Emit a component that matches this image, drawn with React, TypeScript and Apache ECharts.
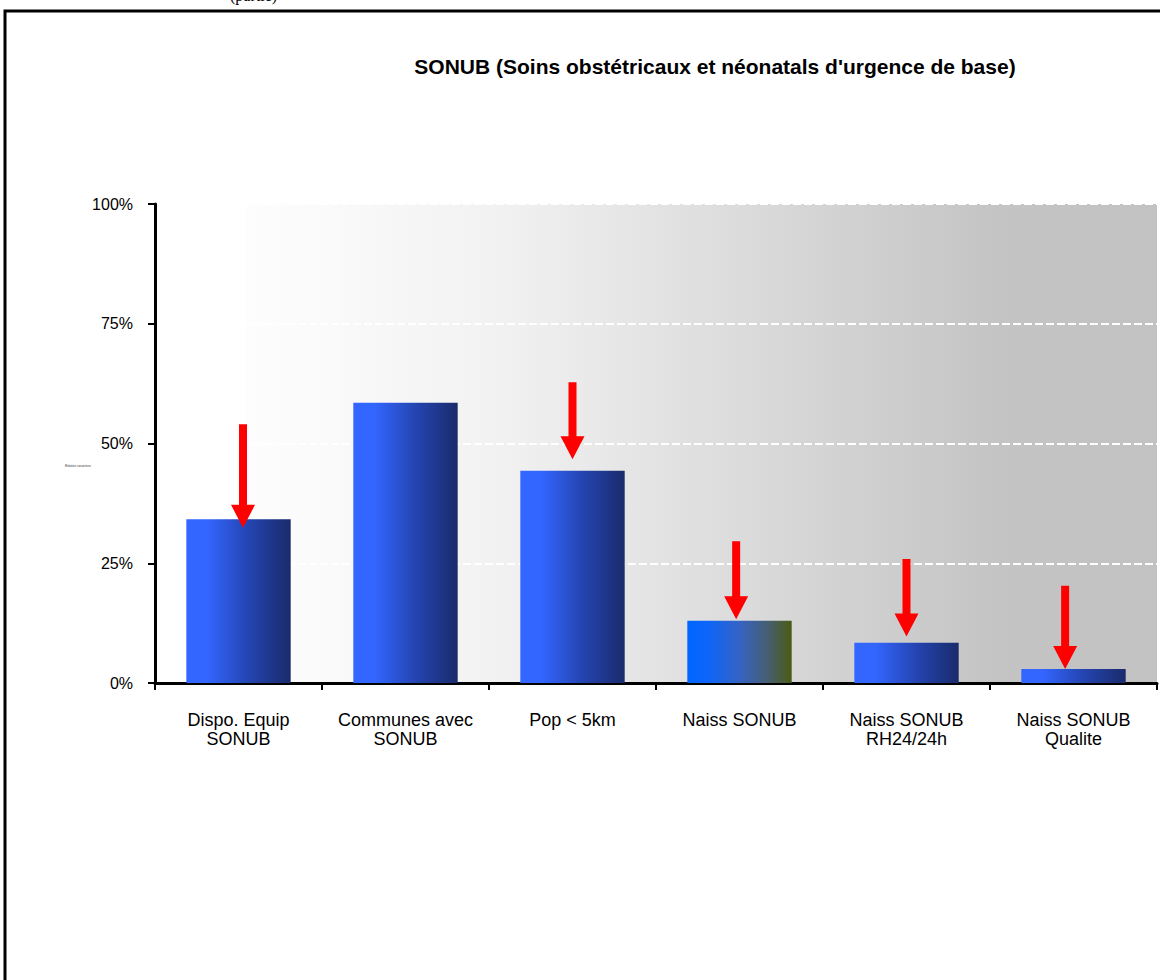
import React, { useEffect, useRef } from "react";
import * as echarts from "echarts";

const categories = [
  "Dispo. Equip\nSONUB",
  "Communes avec\nSONUB",
  "Pop < 5km",
  "Naiss SONUB",
  "Naiss SONUB\nRH24/24h",
  "Naiss SONUB\nQualite",
];
const values = [34.2, 58.5, 44.3, 13.0, 8.4, 2.9];
const yMin = 0;
const yMax = 100;
const yInterval = 25;

// arrows: category index, start value, tip value, shift (fraction of band)
const arrowCategory = [0, 2, 3, 4, 5];
const arrowStart = [54.0, 62.8, 29.6, 25.9, 20.3];
const arrowTip = [32.4, 46.7, 13.3, 9.7, 2.9];
const arrowShift = [0.027, 0.0, -0.02, 0.0, -0.05];

const titleText = "SONUB (Soins obstétricaux et néonatals d'urgence de base)";
const topCutText = "(partie)";
const sideNote = "Relative couverture";

const FONT = "Liberation Sans, Arial, Helvetica, sans-serif";

export default function App() {
  const ref = useRef<HTMLDivElement>(null);
  useEffect(() => {
    if (!ref.current) return;
    const chart = echarts.init(ref.current, null, { renderer: "svg" });

    const blueGrad = new echarts.graphic.LinearGradient(0, 0, 1, 0, [
      { offset: 0, color: "#3366ff" },
      { offset: 0.2, color: "#3366ff" },
      { offset: 0.6, color: "#2444b0" },
      { offset: 1, color: "#1a2b6b" },
    ]);
    const oliveGrad = new echarts.graphic.LinearGradient(0, 0, 1, 0, [
      { offset: 0, color: "#0066ff" },
      { offset: 0.2, color: "#0d66f8" },
      { offset: 0.5, color: "#3563c4" },
      { offset: 0.75, color: "#455f78" },
      { offset: 1, color: "#4b5a14" },
    ]);
    const bgGrad = new echarts.graphic.LinearGradient(0, 0, 1, 0, [
      { offset: 0, color: "#ffffff" },
      { offset: 0.09, color: "#ffffff" },
      { offset: 0.091, color: "#fdfdfd" },
      { offset: 0.17, color: "#fafafa" },
      { offset: 0.35, color: "#f1f1f1" },
      { offset: 0.5, color: "#e3e3e3" },
      { offset: 0.74, color: "#cdcdcd" },
      { offset: 0.84, color: "#c4c4c4" },
      { offset: 1, color: "#c2c2c2" },
    ]);

    const arrowData = arrowCategory.map((c, i) => [c, arrowStart[i], arrowTip[i], arrowShift[i]]);

    chart.setOption({
      animation: false,
      title: {
        text: titleText,
        left: 715,
        top: 56,
        textAlign: "center",
        padding: 0,
        textStyle: { fontFamily: FONT, fontSize: 21, fontWeight: "bold", color: "#000" },
      },
      grid: {
        left: 155,
        right: 3,
        top: 204,
        bottom: 297,
        show: true,
        backgroundColor: bgGrad,
        borderWidth: 0,
      },
      xAxis: {
        type: "category",
        data: categories,
        axisLine: { show: true, lineStyle: { color: "#000", width: 3 } },
        axisTick: { show: true, length: 7, alignWithLabel: false, lineStyle: { color: "#000", width: 2 } },
        axisLabel: {
          interval: 0,
          color: "#000",
          fontFamily: FONT,
          fontSize: 18,
          lineHeight: 19,
          margin: 27,
        },
        splitLine: { show: false },
      },
      yAxis: {
        type: "value",
        min: yMin,
        max: yMax,
        interval: yInterval,
        axisLine: { show: true, lineStyle: { color: "#000", width: 3 } },
        axisTick: { show: true, length: 7, lineStyle: { color: "#000", width: 2 } },
        axisLabel: {
          formatter: "{value}%",
          color: "#000",
          fontFamily: FONT,
          fontSize: 16,
          margin: 22,
        },
        splitLine: { show: true, lineStyle: { color: "#ffffff", width: 2, type: [8, 3] } },
      },
      series: [
        {
          type: "bar",
          data: values.map((v, i) => ({
            value: v,
            itemStyle: { color: i === 3 ? oliveGrad : blueGrad },
          })),
          barWidth: "62.5%",
          z: 2,
        },
        {
          type: "custom",
          data: arrowData,
          z: 5,
          clip: false,
          encode: { x: 0, y: [1, 2] },
          renderItem: (params: any, api: any) => {
            const idx = api.value(0);
            const band = api.size([1, 0])[0];
            const shift = api.value(3) * band;
            const s = api.coord([idx, api.value(1)]);
            const t = api.coord([idx, api.value(2)]);
            const x = s[0] + shift;
            const hw = 4;
            const head = 12;
            const hh = 23;
            const points = [
              [x - hw, s[1]],
              [x + hw, s[1]],
              [x + hw, t[1] - hh],
              [x + head, t[1] - hh],
              [x, t[1]],
              [x - head, t[1] - hh],
              [x - hw, t[1] - hh],
            ];
            return { type: "polygon", shape: { points }, style: { fill: "#ff0000" } };
          },
        },
      ],
      graphic: [
        {
          type: "rect",
          shape: { x: 5, y: 11, width: 1200, height: 1000 },
          style: { fill: "none", stroke: "#000", lineWidth: 3 },
          silent: true,
        },
        {
          type: "text",
          x: 230,
          y: -13,
          style: { text: topCutText, font: "16px 'Liberation Serif', 'Times New Roman', serif", fill: "#000" },
          silent: true,
        },
        {
          type: "text",
          x: 65,
          y: 464,
          style: { text: sideNote, font: "3px " + FONT, fill: "#333" },
          silent: true,
        },
      ],
    });
    return () => chart.dispose();
  }, []);
  return (
    <div
      ref={ref}
      style={{ position: "absolute", left: 0, top: 0, width: 1160, height: 980, background: "#fff" }}
    />
  );
}
